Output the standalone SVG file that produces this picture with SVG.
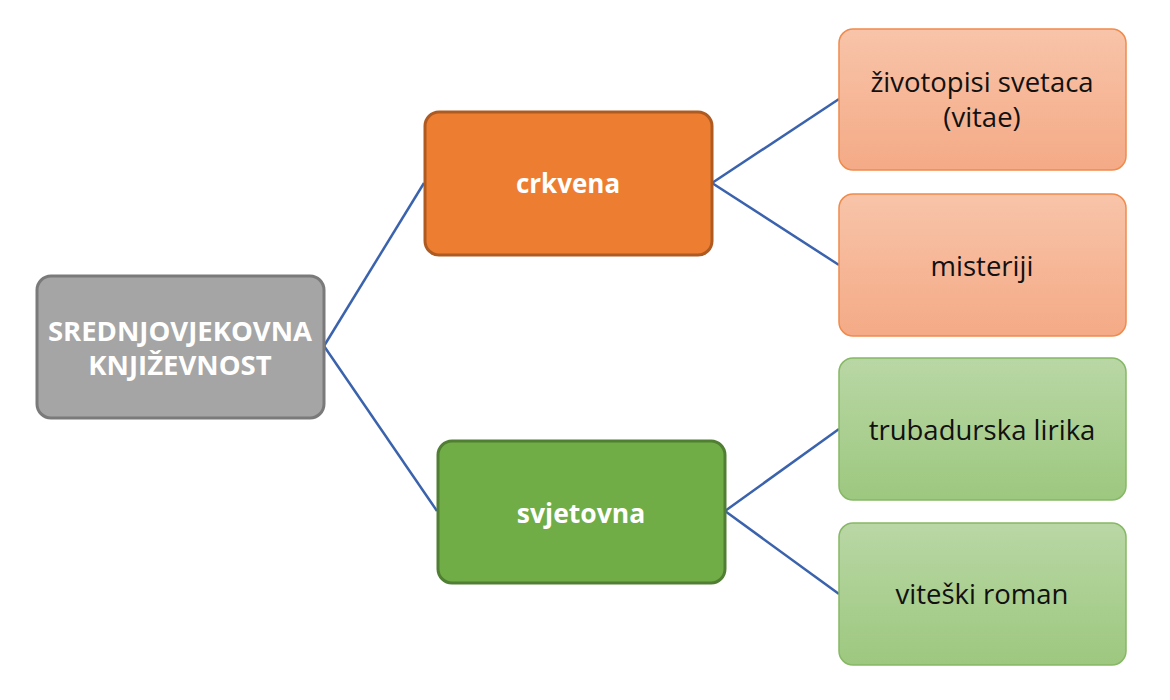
<svg xmlns="http://www.w3.org/2000/svg" width="1170" height="700" viewBox="0 0 1170 700">
<defs>
<linearGradient id="gOr" x1="0" y1="0" x2="0" y2="1"><stop offset="0" stop-color="#f8c4a9"/><stop offset="1" stop-color="#f4aa86"/></linearGradient>
<linearGradient id="gGr" x1="0" y1="0" x2="0" y2="1"><stop offset="0" stop-color="#b9d7a5"/><stop offset="1" stop-color="#9dc87f"/></linearGradient>
<style>
.t{font-family:"Open Sans","Liberation Sans",sans-serif;text-anchor:middle}
.w{fill:#ffffff;font-weight:bold}
.k{fill:#111111;font-size:27.5px}
.c{stroke:#3a62ad;stroke-width:2.5;fill:none}
</style>
</defs>
<rect width="1170" height="700" fill="#ffffff"/>
<g id="connectors">
<line class="c" x1="324" y1="346" x2="424" y2="183"/>
<line class="c" x1="324" y1="346" x2="437" y2="511"/>
<line class="c" x1="712" y1="183" x2="839" y2="99"/>
<line class="c" x1="712" y1="183" x2="839" y2="265"/>
<line class="c" x1="725" y1="511" x2="839" y2="429"/>
<line class="c" x1="725" y1="511" x2="839" y2="594"/>
</g>
<g id="root">
<rect x="37" y="276" width="287" height="142" rx="14" fill="#a5a5a5" stroke="#7a7a7a" stroke-width="3"/>
<text class="t w" x="180" y="341" font-size="27.5">SREDNJOVJEKOVNA</text>
<text class="t w" x="180" y="375" font-size="27.5">KNJIŽEVNOST</text>
</g>
<g id="crkvena">
<rect x="425" y="112" width="287" height="143" rx="14" fill="#ed7d31" stroke="#ae5a21" stroke-width="3"/>
<text class="t w" x="568" y="193" font-size="26">crkvena</text>
</g>
<g id="svjetovna">
<rect x="438" y="441" width="287" height="142" rx="14" fill="#70ad47" stroke="#507e32" stroke-width="3"/>
<text class="t w" x="581" y="523" font-size="26.5">svjetovna</text>
</g>
<g id="zivotopisi">
<rect x="839" y="29" width="287" height="141" rx="14" fill="url(#gOr)" stroke="#f08b4c" stroke-width="1.5"/>
<text class="t k" x="982" y="92">životopisi svetaca</text>
<text class="t k" x="982" y="127">(vitae)</text>
</g>
<g id="misteriji">
<rect x="839" y="194" width="287" height="142" rx="14" fill="url(#gOr)" stroke="#f08b4c" stroke-width="1.5"/>
<text class="t k" x="982" y="276">misteriji</text>
</g>
<g id="trubadurska">
<rect x="839" y="358" width="287" height="142" rx="14" fill="url(#gGr)" stroke="#86b865" stroke-width="1.5"/>
<text class="t k" x="982" y="440">trubadurska lirika</text>
</g>
<g id="viteski">
<rect x="839" y="523" width="287" height="142" rx="14" fill="url(#gGr)" stroke="#86b865" stroke-width="1.5"/>
<text class="t k" x="982" y="604">viteški roman</text>
</g>
</svg>
